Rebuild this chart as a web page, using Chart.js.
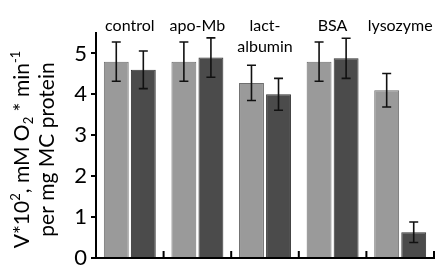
<!DOCTYPE html>
<html>
<head>
<meta charset="utf-8">
<script src="https://cdn.jsdelivr.net/npm/chart.js@4/dist/chart.umd.min.js"></script>
<style>
  html, body { margin: 0; padding: 0; background: #fff; }
  #wrap { width: 441px; height: 276px; position: relative; }
</style>
</head>
<body>
<div id="wrap"><canvas id="c"></canvas></div>
<script>
// groups shown above the plot (multi-line where the original wraps)
const categories = [['control'], ['apo-Mb'], ['lact-', 'albumin'], ['BSA'], ['lysozyme']];
const seriesA = [4.8, 4.8, 4.28, 4.8, 4.1];
const seriesB = [4.6, 4.9, 4.0, 4.88, 0.63];
const errA = [0.48, 0.48, 0.43, 0.48, 0.41];
const errB = [0.46, 0.48, 0.39, 0.49, 0.25];
const yTicks = [0, 1, 2, 3, 4, 5];

const FONT = 'Lato, "DejaVu Sans", sans-serif';

// error bars, drawn from the bar elements and y scale
const errorBars = {
  id: 'errorBars',
  afterDatasetsDraw(chart) {
    const ctx = chart.ctx, y = chart.scales.y;
    const errs = [errA, errB];
    chart.data.datasets.forEach((ds, di) => {
      chart.getDatasetMeta(di).data.forEach((bar, i) => {
        const v = ds.data[i], e = errs[di][i];
        const top = y.getPixelForValue(v + e), bot = y.getPixelForValue(v - e);
        ctx.save();
        ctx.strokeStyle = '#111';
        ctx.lineWidth = 1.6;
        ctx.beginPath();
        ctx.moveTo(bar.x, top); ctx.lineTo(bar.x, bot);
        ctx.moveTo(bar.x - 4.5, top); ctx.lineTo(bar.x + 4.5, top);
        ctx.moveTo(bar.x - 4.5, bot); ctx.lineTo(bar.x + 4.5, bot);
        ctx.stroke();
        ctx.restore();
      });
    });
  }
};

// category names above, ticks on x axis pointing up, y title with scripts
const decor = {
  id: 'decor',
  afterDraw(chart) {
    const ctx = chart.ctx, x = chart.scales.x, area = chart.chartArea;
    ctx.save();
    ctx.fillStyle = '#000';
    ctx.font = '16px ' + FONT;
    ctx.textAlign = 'center';
    ctx.textBaseline = 'middle';
    categories.forEach((lines, i) => {
      const cx = x.getPixelForValue(i);
      lines.forEach((t, k) => ctx.fillText(t, cx, 26 + k * 21));
    });
    // boundary ticks
    ctx.strokeStyle = '#000';
    ctx.lineWidth = 2;
    ctx.beginPath();
    for (let i = 0; i < categories.length; i++) {
      const bx = i < categories.length - 1
        ? (x.getPixelForValue(i) + x.getPixelForValue(i + 1)) / 2
        : area.right;
      ctx.moveTo(bx, area.bottom); ctx.lineTo(bx, area.bottom - 7);
    }
    ctx.stroke();

    // y title, rotated, two lines
    const cy = (area.top + area.bottom) / 2 + 4;
    const line1 = [['V*10', 'n'], ['2', 'sup'], [', mM O', 'n'], ['2', 'sub'], [' * min', 'n'], ['-1', 'sup']];
    const line2 = [['per mg MC protein', 'n']];
    const drawLine = (parts, colX) => {
      ctx.save();
      ctx.translate(colX, cy);
      ctx.rotate(-Math.PI / 2);
      const big = '21px ' + FONT, small = '13px ' + FONT;
      let w = 0;
      parts.forEach(([t, k]) => { ctx.font = k === 'n' ? big : small; w += ctx.measureText(t).width; });
      let px = -w / 2;
      ctx.textAlign = 'left';
      ctx.textBaseline = 'alphabetic';
      parts.forEach(([t, k]) => {
        ctx.font = k === 'n' ? big : small;
        const dy = k === 'sup' ? -9 : (k === 'sub' ? 4 : 0);
        ctx.fillText(t, px, 7 + dy);
        px += ctx.measureText(t).width;
      });
      ctx.restore();
    };
    drawLine(line1, 22);
    drawLine(line2, 47);
    ctx.restore();
  }
};

new Chart(document.getElementById('c'), {
  type: 'bar',
  data: {
    labels: categories.map(c => c.join(' ')),
    datasets: [
      { data: seriesA, backgroundColor: '#9a9a9a', borderColor: '#6e6e6e', borderWidth: 1,
        categoryPercentage: 0.8, barPercentage: 0.92 },
      { data: seriesB, backgroundColor: '#4b4b4b', borderColor: '#333', borderWidth: 1,
        categoryPercentage: 0.8, barPercentage: 0.92 }
    ]
  },
  options: {
    responsive: true,
    maintainAspectRatio: false,
    animation: false,
    layout: { padding: { top: 33, right: 7, bottom: 18, left: 0 } },
    plugins: { legend: { display: false }, tooltip: { enabled: false } },
    scales: {
      x: {
        grid: { display: false },
        ticks: { display: false },
        border: { display: true, color: '#000', width: 2 },
        afterFit: s => { s.height = 0; }
      },
      y: {
        min: 0, max: 5.5,
        afterBuildTicks: s => { s.ticks = yTicks.map(v => ({ value: v })); },
        afterFit: s => { s.width = 96; },
        grid: { drawOnChartArea: false, drawTicks: true, tickLength: 5, color: '#000', lineWidth: 2 },
        border: { display: true, color: '#000', width: 2 },
        ticks: { color: '#000', padding: 4, font: { family: FONT, size: 22 } }
      }
    }
  },
  plugins: [errorBars, decor]
});
</script>
</body>
</html>
